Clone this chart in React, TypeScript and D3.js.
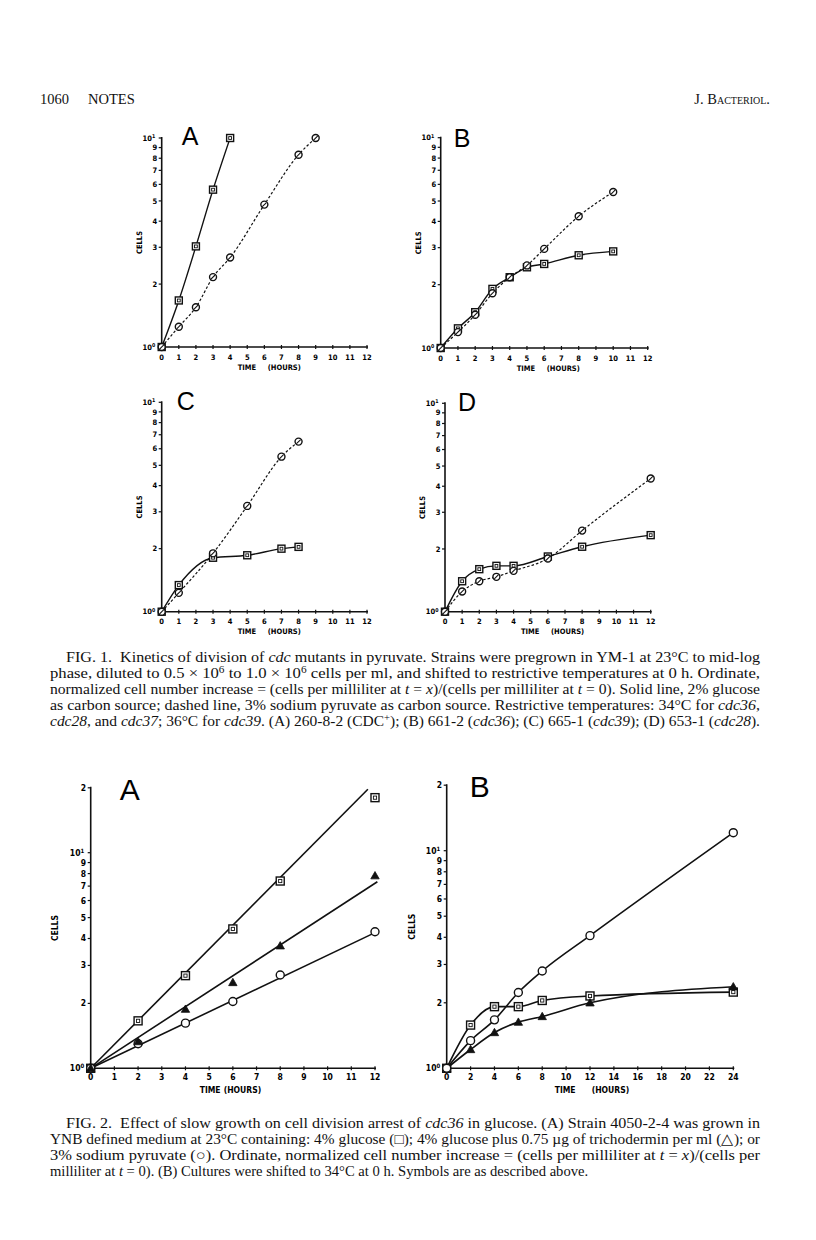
import React from "react";
import * as d3 from "d3";

// ---------------- DATA ----------------
// Fig. 1 (log scale 1..10), solid = 2% glucose (squares), dashed = 3% pyruvate (circles)
const f1A_glucT = [0, 1, 2, 3, 4];
const f1A_glucV = [1, 1.67, 3.03, 5.66, 10];
const f1A_pyrT = [0, 1, 2, 3, 4, 6, 8, 9];
const f1A_pyrV = [1, 1.25, 1.55, 2.16, 2.68, 4.8, 8.32, 10];

const f1B_glucT = [0, 1, 2, 3, 4, 5, 6, 8, 10];
const f1B_glucV = [1, 1.24, 1.48, 1.91, 2.17, 2.42, 2.51, 2.76, 2.88];
const f1B_pyrT = [0, 1, 2, 3, 4, 5, 6, 8, 10];
const f1B_pyrV = [1, 1.19, 1.44, 1.82, 2.17, 2.47, 2.96, 4.23, 5.52];

const f1C_glucT = [0, 1, 3, 5, 7, 8];
const f1C_glucV = [1, 1.34, 1.81, 1.86, 2.0, 2.04];
const f1C_pyrT = [0, 1, 3, 5, 7, 8];
const f1C_pyrV = [1, 1.23, 1.9, 3.2, 5.5, 6.49];

const f1D_glucT = [0, 1, 2, 3, 4, 6, 8, 12];
const f1D_glucV = [1, 1.4, 1.6, 1.66, 1.66, 1.84, 2.05, 2.33];
const f1D_pyrT = [0, 1, 2, 3, 4, 6, 8, 12];
const f1D_pyrV = [1, 1.25, 1.4, 1.47, 1.57, 1.8, 2.45, 4.36];

// Fig. 2A (log scale 1..20): glucose (squares), trichodermin (triangles), pyruvate (circles)
const f2A_T = [0, 2, 4, 6, 8, 12];
const f2A_glucV = [1, 1.66, 2.69, 4.43, 7.39, 18.0];
const f2A_trichV = [1, 1.33, 1.88, 2.5, 3.7, 7.82];
const f2A_pyrV = [1, 1.3, 1.62, 2.04, 2.71, 4.3];
// fitted straight lines (start / end points)
const f2A_glucFitT = [0, 11.7];
const f2A_glucFitV = [1, 19.7];
const f2A_trichFitT = [0, 12.1];
const f2A_trichFitV = [1, 7.33];
const f2A_pyrFitT = [0, 12];
const f2A_pyrFitV = [1, 4.26];

// Fig. 2B
const f2B_T = [0, 2, 4, 6, 8, 12, 24];
const f2B_glucV = [1, 1.58, 1.92, 1.92, 2.05, 2.15, 2.24];
const f2B_trichV = [1, 1.22, 1.46, 1.63, 1.73, 2.0, 2.37];
const f2B_pyrV = [1, 1.34, 1.67, 2.23, 2.8, 4.07, 12.1];

const fig1YTicks = [1, 2, 3, 4, 5, 6, 7, 8, 9, 10];
const fig2YTicks = [1, 2, 3, 4, 5, 6, 7, 8, 9, 10, 20];
const hours12 = [0, 1, 2, 3, 4, 5, 6, 7, 8, 9, 10, 11, 12];
const hours24 = [0, 2, 4, 6, 8, 10, 12, 14, 16, 18, 20, 22, 24];

// ---------------- helpers ----------------
const PLOT_FONT = "'DejaVu Sans Condensed', 'DejaVu Sans', sans-serif";
const SERIF = "'Liberation Serif', 'Times New Roman', serif";

type Series = {
  t: number[];
  v: number[];
  marker: "square" | "circleSlash" | "circle" | "triangle";
  dashed?: boolean;
  line?: boolean;
  fitT?: number[];
  fitV?: number[];
};

type PanelCfg = {
  px0: number;
  px1: number;
  xMax: number;
  py1: number;
  py10: number;
  yMax: number;
  xTicks: number[];
  yTicks: number[];
  letter: string;
  letterDx: number;
  letterDy: number;
  letterSize: number;
  labelSize: number;
  cellsDx: number;
  timeDx: number;
  hoursDx: number;
  timeDy: number;
  tickLabelDy: number;
  markerSize: number;
  lineWidth: number;
  series: Series[];
};

function Marker({ kind, x, y, s }: { kind: string; x: number; y: number; s: number }) {
  const h = s / 2;
  if (kind === "square") {
    return (
      <g>
        <rect x={x - h} y={y - h} width={s} height={s} fill="white" stroke="#111" strokeWidth={1.4} />
        <rect x={x - h * 0.4} y={y - h * 0.4} width={s * 0.4} height={s * 0.4} fill="none" stroke="#111" strokeWidth={0.9} />
      </g>
    );
  }
  if (kind === "circleSlash") {
    return (
      <g>
        <circle cx={x} cy={y} r={h} fill="white" stroke="#111" strokeWidth={1.4} />
        <line x1={x - h * 0.6} y1={y + h * 0.6} x2={x + h * 0.6} y2={y - h * 0.6} stroke="#111" strokeWidth={1.1} />
      </g>
    );
  }
  if (kind === "circle") {
    return <circle cx={x} cy={y} r={h} fill="white" stroke="#111" strokeWidth={1.4} />;
  }
  // triangle
  const r = h * 1.05;
  return (
    <path
      d={`M${x},${y - r} L${x + r},${y + r * 0.75} L${x - r},${y + r * 0.75} Z`}
      fill="#111"
      stroke="#111"
      strokeWidth={0.8}
    />
  );
}

function yLabel(v: number, x: number, y: number, size: number) {
  if (v === 1 || v === 10) {
    return (
      <text x={x} y={y + size * 0.35} textAnchor="end" fontSize={size} fontWeight="bold" fontFamily={PLOT_FONT}>
        10
        <tspan fontSize={size * 0.7} dy={-size * 0.35}>
          {v === 1 ? "0" : "1"}
        </tspan>
      </text>
    );
  }
  const t = v === 20 ? "2" : String(v);
  return (
    <text x={x} y={y + size * 0.35} textAnchor="end" fontSize={size} fontWeight="bold" fontFamily={PLOT_FONT}>
      {t}
    </text>
  );
}

function Panel({ c }: { c: PanelCfg }) {
  const x = d3.scaleLinear().domain([0, c.xMax]).range([c.px0, c.px1]);
  const y = d3.scaleLog().domain([1, 10]).range([c.py1, c.py10]);
  const yTop = y(c.yMax);
  const sz = c.labelSize;
  const gen = d3
    .line<[number, number]>()
    .x((d) => x(d[0]))
    .y((d) => y(d[1]))
    .curve(d3.curveMonotoneX);
  const straight = d3
    .line<[number, number]>()
    .x((d) => x(d[0]))
    .y((d) => y(d[1]));
  return (
    <g>
      {/* axes */}
      <line x1={c.px0} y1={c.py1} x2={c.px0} y2={yTop - 1} stroke="#111" strokeWidth={1.6} />
      <line x1={c.px0 - 2} y1={c.py1} x2={c.px1 + 1} y2={c.py1} stroke="#111" strokeWidth={1.6} />
      {c.yTicks.map((v) => (
        <g key={"yt" + v}>
          <line x1={c.px0 - 3} x2={c.px0} y1={y(v)} y2={y(v)} stroke="#111" strokeWidth={1.2} />
          {yLabel(v, c.px0 - (v === 1 || v === 10 ? 6.5 : 4.5), y(v), sz)}
        </g>
      ))}
      {c.xTicks.map((t) => (
        <g key={"xt" + t}>
          <line x1={x(t)} x2={x(t)} y1={c.py1 - 2} y2={c.py1 + 2} stroke="#111" strokeWidth={1.2} />
          <text
            x={x(t)}
            y={c.py1 + c.tickLabelDy}
            textAnchor="middle"
            fontSize={sz}
            fontWeight="bold"
            fontFamily={PLOT_FONT}
          >
            {t}
          </text>
        </g>
      ))}
      <text
        transform={`translate(${c.px0 - c.cellsDx},${(c.py1 + yTop) / 2}) rotate(-90)`}
        textAnchor="middle"
        fontSize={sz}
        fontWeight="bold"
        fontFamily={PLOT_FONT}
      >
        CELLS
      </text>
      <text x={c.px0 + c.timeDx} y={c.py1 + c.timeDy} fontSize={sz} fontWeight="bold" fontFamily={PLOT_FONT}>
        TIME
      </text>
      <text x={c.px0 + c.hoursDx} y={c.py1 + c.timeDy} fontSize={sz} fontWeight="bold" fontFamily={PLOT_FONT}>
        (HOURS)
      </text>
      <text
        x={c.px0 + c.letterDx}
        y={yTop + c.letterDy}
        fontSize={c.letterSize}
        fontFamily="'Liberation Sans', 'DejaVu Sans', sans-serif"
        fontWeight="normal"
      >
        {c.letter}
      </text>
      {/* lines */}
      {c.series.map((s, i) => {
        if (s.fitT && s.fitV) {
          const pts = s.fitT.map((t, k) => [t, s.fitV![k]] as [number, number]);
          return <path key={"l" + i} d={straight(pts) || ""} fill="none" stroke="#111" strokeWidth={c.lineWidth} />;
        }
        if (s.line === false) return null;
        const pts = s.t.map((t, k) => [t, s.v[k]] as [number, number]);
        return (
          <path
            key={"l" + i}
            d={gen(pts) || ""}
            fill="none"
            stroke="#111"
            strokeWidth={s.dashed ? c.lineWidth * 0.85 : c.lineWidth}
            strokeDasharray={s.dashed ? "2.6,2" : undefined}
          />
        );
      })}
      {/* markers */}
      {c.series.map((s, i) =>
        s.t.map((t, k) => (
          <Marker key={"m" + i + "-" + k} kind={s.marker} x={x(t)} y={y(s.v[k])} s={c.markerSize} />
        ))
      )}
    </g>
  );
}

const fig1Base = {
  xMax: 12,
  yMax: 10,
  xTicks: hours12,
  yTicks: fig1YTicks,
  letterSize: 25,
  labelSize: 7.5,
  cellsDx: 20,
  timeDx: 76,
  hoursDx: 106,
  timeDy: 22.5,
  tickLabelDy: 12.5,
  markerSize: 7,
  lineWidth: 1.4,
};

const panels: PanelCfg[] = [
  {
    ...fig1Base,
    px0: 161.7,
    px1: 367,
    py1: 347,
    py10: 138,
    letter: "A",
    letterDx: 20,
    letterDy: 7,
    series: [
      { t: f1A_glucT, v: f1A_glucV, marker: "square" },
      { t: f1A_pyrT, v: f1A_pyrV, marker: "circleSlash", dashed: true },
    ],
  },
  {
    ...fig1Base,
    px0: 440.7,
    px1: 647.7,
    py1: 348,
    py10: 137.7,
    letter: "B",
    letterDx: 13,
    letterDy: 9,
    series: [
      { t: f1B_glucT, v: f1B_glucV, marker: "square" },
      { t: f1B_pyrT, v: f1B_pyrV, marker: "circleSlash", dashed: true },
    ],
  },
  {
    ...fig1Base,
    px0: 161.7,
    px1: 367,
    py1: 611.7,
    py10: 402.3,
    letter: "C",
    letterDx: 15,
    letterDy: 8,
    series: [
      { t: f1C_glucT, v: f1C_glucV, marker: "square" },
      { t: f1C_pyrT, v: f1C_pyrV, marker: "circleSlash", dashed: true },
    ],
  },
  {
    ...fig1Base,
    px0: 445,
    px1: 650.7,
    py1: 611.7,
    py10: 403.3,
    letter: "D",
    letterDx: 13,
    letterDy: 8,
    series: [
      { t: f1D_glucT, v: f1D_glucV, marker: "square" },
      { t: f1D_pyrT, v: f1D_pyrV, marker: "circleSlash", dashed: true },
    ],
  },
  {
    px0: 90.7,
    px1: 375,
    xMax: 12,
    py1: 1068.3,
    py10: 852.7,
    yMax: 20,
    xTicks: hours12,
    yTicks: fig2YTicks,
    letter: "A",
    letterDx: 29,
    letterDy: 12,
    letterSize: 30,
    labelSize: 8.5,
    cellsDx: 33,
    timeDx: 109,
    hoursDx: 133,
    timeDy: 25,
    tickLabelDy: 12,
    markerSize: 8,
    lineWidth: 1.6,
    series: [
      { t: f2A_T, v: f2A_glucV, marker: "square", fitT: f2A_glucFitT, fitV: f2A_glucFitV },
      { t: f2A_T, v: f2A_pyrV, marker: "circle", fitT: f2A_pyrFitT, fitV: f2A_pyrFitV },
      { t: f2A_T, v: f2A_trichV, marker: "triangle", fitT: f2A_trichFitT, fitV: f2A_trichFitV },
    ],
  },
  {
    px0: 446.7,
    px1: 733.3,
    xMax: 24,
    py1: 1068.3,
    py10: 850.7,
    yMax: 20,
    xTicks: hours24,
    yTicks: fig2YTicks,
    letter: "B",
    letterDx: 23,
    letterDy: 12,
    letterSize: 30,
    labelSize: 8.5,
    cellsDx: 32,
    timeDx: 108,
    hoursDx: 145,
    timeDy: 25,
    tickLabelDy: 12,
    markerSize: 8,
    lineWidth: 1.6,
    series: [
      { t: f2B_T, v: f2B_glucV, marker: "square" },
      { t: f2B_T, v: f2B_trichV, marker: "triangle" },
      { t: f2B_T, v: f2B_pyrV, marker: "circle" },
    ],
  },
];

// ---------------- captions ----------------
const CAP_LEFT = 50;
const CAP_INDENT = 66;
const CAP_RIGHT = 760;
const CAP_SIZE = 14.6;

type Piece = { s: string; i?: boolean; sup?: boolean };

const fig1Caption: Piece[][] = [
  [
    { s: "FIG. 1.  Kinetics of division of " },
    { s: "cdc", i: true },
    { s: " mutants in pyruvate. Strains were pregrown in YM-1 at 23°C to mid-log" },
  ],
  [
    { s: "phase, diluted to 0.5 × 10" },
    { s: "6", sup: true },
    { s: " to 1.0 × 10" },
    { s: "6", sup: true },
    { s: " cells per ml, and shifted to restrictive temperatures at 0 h. Ordinate," },
  ],
  [
    { s: "normalized cell number increase = (cells per milliliter at " },
    { s: "t", i: true },
    { s: " = " },
    { s: "x", i: true },
    { s: ")/(cells per milliliter at " },
    { s: "t", i: true },
    { s: " = 0). Solid line, 2% glucose" },
  ],
  [
    { s: "as carbon source; dashed line, 3% sodium pyruvate as carbon source. Restrictive temperatures: 34°C for " },
    { s: "cdc36", i: true },
    { s: "," },
  ],
  [
    { s: "cdc28", i: true },
    { s: ", and " },
    { s: "cdc37", i: true },
    { s: "; 36°C for " },
    { s: "cdc39", i: true },
    { s: ". (A) 260-8-2 (CDC" },
    { s: "+", sup: true },
    { s: "); (B) 661-2 (" },
    { s: "cdc36", i: true },
    { s: "); (C) 665-1 (" },
    { s: "cdc39", i: true },
    { s: "); (D) 653-1 (" },
    { s: "cdc28", i: true },
    { s: ")." },
  ],
];

const fig2Caption: Piece[][] = [
  [
    { s: "FIG. 2.  Effect of slow growth on cell division arrest of " },
    { s: "cdc36", i: true },
    { s: " in glucose. (A) Strain 4050-2-4 was grown in" },
  ],
  [{ s: "YNB defined medium at 23°C containing: 4% glucose (□); 4% glucose plus 0.75 µg of trichodermin per ml (△); or" }],
  [
    { s: "3% sodium pyruvate (○). Ordinate, normalized cell number increase = (cells per milliliter at " },
    { s: "t", i: true },
    { s: " = " },
    { s: "x", i: true },
    { s: ")/(cells per" },
  ],
  [
    { s: "milliliter at " },
    { s: "t", i: true },
    { s: " = 0). (B) Cultures were shifted to 34°C at 0 h. Symbols are as described above." },
  ],
];

function CaptionLine({ pieces, x, y, justify }: { pieces: Piece[]; x: number; y: number; justify: boolean }) {
  const extra = justify ? { textLength: CAP_RIGHT - x, lengthAdjust: "spacingAndGlyphs" } : {};
  return (
    <text x={x} y={y} fontSize={CAP_SIZE} fontFamily={SERIF} fill="#111" xmlSpace="preserve" {...extra}>
      {pieces.map((p, k) =>
        p.sup ? (
          <tspan key={k} fontSize={CAP_SIZE * 0.68} baselineShift="super">
            {p.s}
          </tspan>
        ) : (
          <tspan key={k} fontStyle={p.i ? "italic" : "normal"}>
            {p.s}
          </tspan>
        )
      )}
    </text>
  );
}

function Caption({ lines, y0, lastJustified }: { lines: Piece[][]; y0: number; lastJustified: boolean }) {
  return (
    <g>
      {lines.map((l, k) => (
        <CaptionLine
          key={k}
          pieces={l}
          x={k === 0 ? CAP_INDENT : CAP_LEFT}
          y={y0 + k * 16}
          justify={k < lines.length - 1 || lastJustified}
        />
      ))}
    </g>
  );
}

export default function App() {
  return (
    <div style={{ position: "absolute", left: 0, top: 0 }}>
      <svg width={816} height={1240} viewBox="0 0 816 1240" style={{ display: "block", background: "white" }}>
        <rect x={0} y={0} width={816} height={1240} fill="white" />
        {/* running header */}
        <text x={40} y={104} fontSize={14.5} fontFamily={SERIF} fill="#111">
          1060
        </text>
        <text x={88} y={104} fontSize={14.5} fontFamily={SERIF} fill="#111">
          NOTES
        </text>
        <text x={770} y={104} fontSize={14.5} fontFamily={SERIF} textAnchor="end" fill="#111" style={{ fontVariant: "small-caps" }}>
          J. Bacteriol.
        </text>
        {panels.map((c, i) => (
          <Panel key={i} c={c} />
        ))}
        <Caption lines={fig1Caption} y0={662} lastJustified={true} />
        <Caption lines={fig2Caption} y0={1128} lastJustified={false} />
      </svg>
    </div>
  );
}
